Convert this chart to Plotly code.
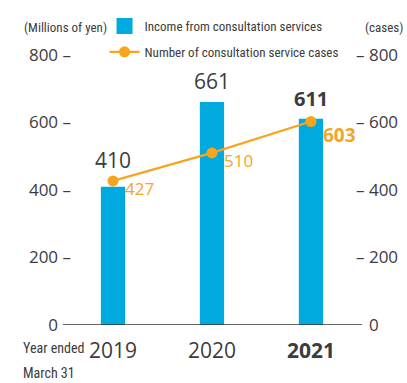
import plotly.graph_objects as go

# Data
years = ["2019", "2020", "2021"]
income = [410, 661, 611]          # Millions of yen
cases = [427, 510, 603]           # number of cases
tick_vals = [0, 200, 400, 600, 800]
tick_nums = ["0", "200", "400", "600", "800"]

BLUE = "#00A9DE"
ORANGE = "#F5A51E"
TEXT = "#3c3c3c"
NUM_FONT = "Open Sans, Noto Sans, sans-serif"
NARROW = "Liberation Sans Narrow, Roboto Condensed, Arial Narrow, Liberation Sans, sans-serif"
HIDDEN_DASH = "<span style='color:rgba(0,0,0,0)'>–</span>"

# tick labels carry a short dash toward the plot; the zero keeps the spacing but hides it
left_ticks = [f"{n} {'–' if v else HIDDEN_DASH}" for n, v in zip(tick_nums, tick_vals)]
right_ticks = [f"{'–' if v else HIDDEN_DASH} {n}" for n, v in zip(tick_nums, tick_vals)]

x_idx = list(range(len(years)))

fig = go.Figure()
fig.add_trace(go.Bar(
    x=x_idx, y=income, name="Income from consultation services",
    marker=dict(color=BLUE, line=dict(width=0)), width=0.245,
    yaxis="y", cliponaxis=False, showlegend=False,
))
# legend entry for the bars, drawn as a larger square swatch
fig.add_trace(go.Scatter(
    x=[None], y=[None], name="Income from consultation services",
    mode="markers", marker=dict(color=BLUE, symbol="square", size=18),
    legendgroup="income",
))
fig.add_trace(go.Scatter(
    x=x_idx, y=cases, name="Number of consultation service cases",
    mode="lines+markers", line=dict(color=ORANGE, width=2.2),
    marker=dict(color=ORANGE, size=11), yaxis="y2", cliponaxis=False,
    legendgroup="cases",
))

# value labels (bold for the latest year)
for i, (v, c) in enumerate(zip(income, cases)):
    latest = i == len(years) - 1
    fig.add_annotation(
        x=i, y=max(v, c), xref="x", yref="y", yanchor="bottom",
        text=f"<b>{v}</b>" if latest else str(v), showarrow=False, yshift=5,
        font=dict(family=NUM_FONT, size=21 if not latest else 20, color=TEXT),
    )
    fig.add_annotation(
        x=i, y=c, xref="x", yref="y2", xanchor="left", yanchor="middle",
        text=f"<b>{c}</b>" if latest else str(c), showarrow=False,
        xshift=10, yshift=-8 if not latest else -14,
        font=dict(family=NUM_FONT, size=17 if not latest else 19, color=ORANGE),
    )

x_text = [y if i < len(years) - 1 else f"<b>{y}</b>" for i, y in enumerate(years)]

fig.update_layout(
    width=407, height=383,
    margin=dict(l=72, r=52, t=55, b=58, autoexpand=False),
    plot_bgcolor="white", paper_bgcolor="white",
    showlegend=True,
    legend=dict(
        x=0.115, y=1.163,
        xanchor="left", yanchor="top",
        font=dict(family=NARROW, size=13, color=TEXT),
        bgcolor="rgba(0,0,0,0)", tracegroupgap=6, itemwidth=30,
        traceorder="grouped",
    ),
    xaxis=dict(
        range=[-0.414, 2.445], tickvals=x_idx, ticktext=x_text,
        showgrid=False, zeroline=False, showline=False,
        ticks="outside", ticklen=7, tickcolor="rgba(0,0,0,0)",
        tickfont=dict(family=NUM_FONT, size=21, color=TEXT),
    ),
    yaxis=dict(
        range=[0, 800], tickvals=tick_vals, ticktext=left_ticks,
        showgrid=False, zeroline=False, showline=False, ticks="",
        tickfont=dict(family=NUM_FONT, size=17, color=TEXT),
    ),
    yaxis2=dict(
        range=[0, 800], tickvals=tick_vals, ticktext=right_ticks,
        overlaying="y", side="right",
        showgrid=False, zeroline=False, showline=False, ticks="",
        tickfont=dict(family=NUM_FONT, size=17, color=TEXT),
    ),
)

# baseline across the chart
fig.add_shape(type="line", xref="paper", yref="y", x0=-0.032, x1=1.025, y0=0, y1=0,
              line=dict(color="#333333", width=1.5))

# unit titles and period note
fig.add_annotation(text="(Millions of yen)", xref="paper", yref="paper", x=-0.177, y=1.0,
                   yshift=28, xanchor="left", yanchor="middle", showarrow=False,
                   font=dict(family=NARROW, size=13, color=TEXT))
fig.add_annotation(text="(cases)", xref="paper", yref="paper", x=1.03, y=1.0,
                   yshift=28, xanchor="left", yanchor="middle", showarrow=False,
                   font=dict(family=NARROW, size=13, color=TEXT))
for line_text, shift in [("Year ended", -23), ("March 31", -48)]:
    fig.add_annotation(text=line_text, xref="paper", yref="paper", x=-0.18, y=0,
                       yshift=shift, xanchor="left", yanchor="middle", showarrow=False,
                       font=dict(family=NARROW, size=14, color=TEXT))

fig.write_html("out.html")
